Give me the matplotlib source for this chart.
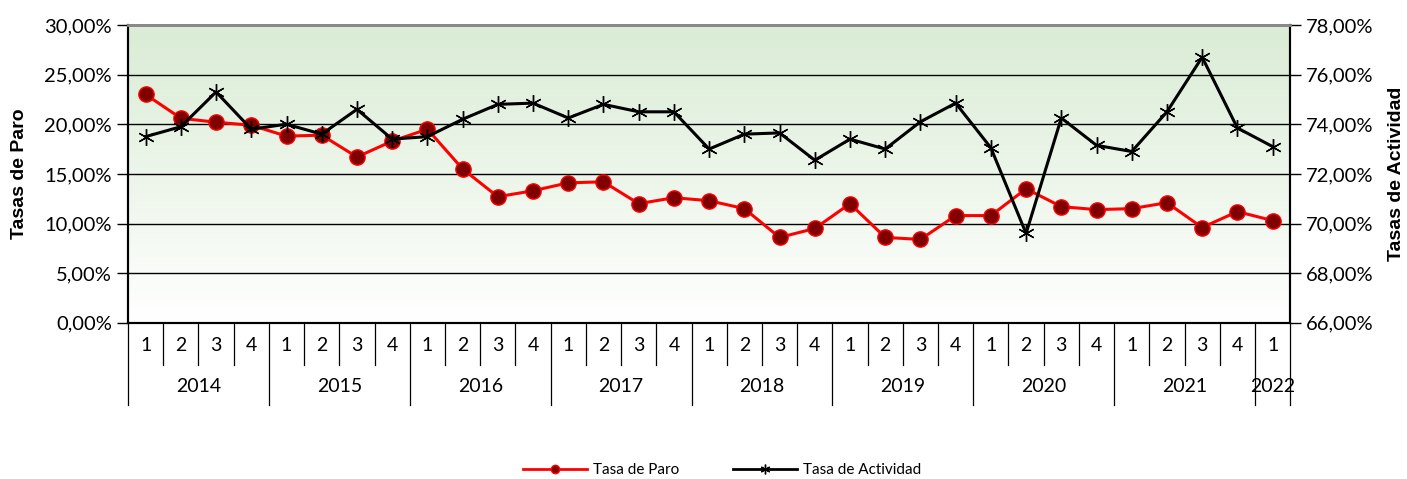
import matplotlib.pyplot as plt
import numpy as np
from matplotlib.ticker import FuncFormatter
from matplotlib.lines import Line2D

years = ["2014", "2015", "2016", "2017", "2018", "2019", "2020", "2021", "2022"]
quarters = [1, 2, 3, 4] * 8 + [1]

paro = [23.0, 20.6, 20.2, 19.9, 18.8, 18.9, 16.7, 18.3,
        19.5, 15.5, 12.7, 13.3, 14.1, 14.2, 12.0, 12.6,
        12.3, 11.5, 8.6, 9.5, 12.0, 8.6, 8.4, 10.8,
        10.8, 13.5, 11.7, 11.4, 11.5, 12.1, 9.6, 11.2, 10.3]
actividad = [73.5, 73.9, 75.3, 73.8, 74.0, 73.6, 74.6, 73.4,
             73.5, 74.2, 74.8, 74.85, 74.25, 74.8, 74.5, 74.5,
             73.0, 73.6, 73.65, 72.55, 73.4, 73.0, 74.1, 74.85,
             73.05, 69.6, 74.25, 73.15, 72.9, 74.5, 76.7, 73.85, 73.1]

plt.rcParams['font.family'] = ['Lato', 'DejaVu Sans']

fig = plt.figure(figsize=(14.07, 4.79), dpi=100)
ax = fig.add_axes([0.091, 0.326, 0.826, 0.622])
ax2 = ax.twinx()

n = len(paro)
x = np.arange(n) + 0.5

# green gradient background
grad = np.linspace(0, 1, 256).reshape(-1, 1)
top = np.array([0.855, 0.925, 0.835])
bot = np.array([1.0, 1.0, 1.0])
img = top[None, None, :] * (1 - grad[..., None]) + bot[None, None, :] * grad[..., None]
ax.imshow(img, extent=[0, 1, 0, 1], transform=ax.transAxes, aspect='auto', zorder=0)

ax.set_xlim(0, n)
ax.set_ylim(0, 30)
ax2.set_ylim(66, 78)
ax.set_yticks(np.arange(0, 31, 5))
ax2.set_yticks(np.arange(66, 79, 2))
pct = FuncFormatter(lambda v, p: f"{v:.2f}%".replace(".", ","))
ax.yaxis.set_major_formatter(pct)
ax2.yaxis.set_major_formatter(pct)
ax.tick_params(axis='y', labelsize=14.5, length=8, width=1)
ax2.tick_params(axis='y', labelsize=14.5, length=8, width=1)
for t in ax.get_yticks()[1:-1]:
    ax.axhline(t, color='black', lw=1, zorder=1)

ax.set_xticks([])
for s in ['left', 'right', 'bottom']:
    ax.spines[s].set_linewidth(1.5)
    ax2.spines[s].set_linewidth(1.5)
ax.spines['top'].set_color('#888888')
ax2.spines['top'].set_color('#888888')
ax.spines['top'].set_linewidth(2)
ax2.spines['top'].set_linewidth(2)

ax.set_ylabel("Tasas de Paro", fontsize=14, fontweight='bold', family='Liberation Sans', labelpad=12)
ax2.set_ylabel("Tasas de Actividad", fontsize=14, fontweight='bold', family='Liberation Sans', labelpad=10)

# red line on left scale, black line on right scale (drawn on top)
ax2.plot(x, paro, transform=ax.transData, color='red', lw=2.2, marker='o', markersize=11,
         markerfacecolor='#800000', markeredgecolor='red', markeredgewidth=1, zorder=3)
ax2.plot(x, actividad, color='black', lw=2.2, marker=(6, 2, 0), markersize=12,
         markeredgewidth=1, zorder=4)

# multi-level category axis
trans = ax.get_xaxis_transform()
for i in range(n + 1):
    year_edge = (i % 4 == 0) or i == n
    ylow = -0.275 if year_edge else -0.14
    ax.plot([i, i], [0, ylow], transform=trans, color='black', lw=0.9, clip_on=False)
for i, q in enumerate(quarters):
    ax.text(i + 0.5, -0.075, str(q), transform=trans, ha='center', va='center', fontsize=14)
for k, yr in enumerate(years):
    start = k * 4
    end = min(start + 4, n)
    ax.text((start + end) / 2, -0.215, yr, transform=trans, ha='center', va='center', fontsize=14)

handles = [Line2D([], [], color='red', lw=2, marker='o', markersize=6,
                  markerfacecolor='#800000', markeredgecolor='red'),
           Line2D([], [], color='black', lw=2, marker=(6, 2, 0), markersize=7, markeredgewidth=1)]
fig.legend(handles, ["Tasa de Paro", "Tasa de Actividad"], loc='center',
           bbox_to_anchor=(0.513, 0.018), ncol=2, frameon=False, fontsize=11,
           handlelength=4.2, columnspacing=3.5, handletextpad=0.4)

fig.savefig("out.png", dpi=100)
